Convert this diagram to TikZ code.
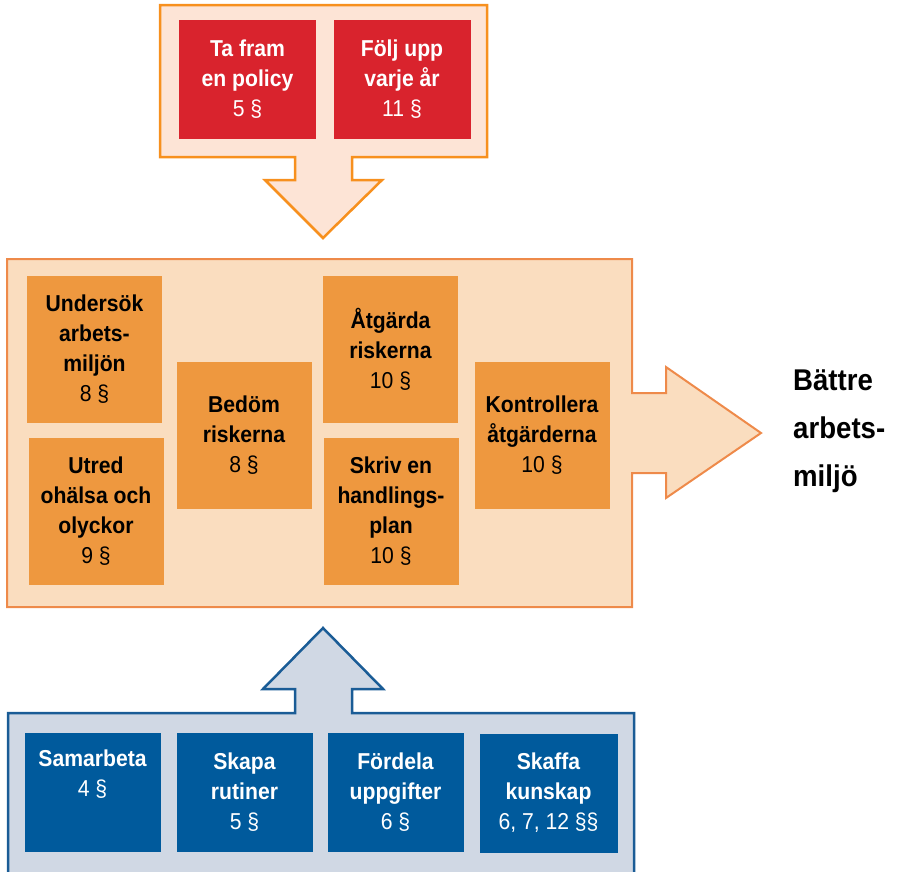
\documentclass[tikz,border=0pt]{standalone}
\usepackage{fontspec}
\setmainfont{Liberation Sans}[FakeStretch=0.92]
\usetikzlibrary{positioning}

\definecolor{topfill}{HTML}{FDE4D6}
\definecolor{topline}{HTML}{F7901E}
\definecolor{midfill}{HTML}{FADDBF}
\definecolor{midline}{HTML}{EE8A4A}
\definecolor{botfill}{HTML}{D0D8E4}
\definecolor{botline}{HTML}{1A5C96}
\definecolor{redbg}{HTML}{D9232D}
\definecolor{orangebg}{HTML}{EE983F}
\definecolor{bluebg}{HTML}{005A9C}

\newcommand{\parnr}[1]{{\mdseries #1}}

\tikzset{
  task/.style={inner sep=0pt, align=center,
    font=\fontsize{23}{30}\selectfont\bfseries},
  redbox/.style={task, fill=redbg, text=white,
    minimum width=137pt, minimum height=119pt},
  orangebox/.style={task, fill=orangebg, text=black,
    minimum width=135pt, minimum height=147pt},
  bluebox/.style={task, fill=bluebg, text=white,
    minimum width=136pt, minimum height=119pt},
}

\begin{document}
\begin{tikzpicture}[x=1pt, y=-1pt]

    \useasboundingbox (0,0) rectangle (912,871);

    % frames

    \draw[line width=2.5pt, draw=topline, fill=topfill, line join=miter]
      (160,5) -- (487,5) -- (487,157) -- (352,157) -- (352,180)
      -- (382,180) -- (323,238) -- (265,180) -- (295,180)
      -- (295,157) -- (160,157) -- cycle;

    \draw[line width=2pt, draw=midline, fill=midfill, line join=miter]
      (7,259) -- (632,259) -- (632,393) -- (666,393) -- (666,367)
      -- (761,433) -- (666,498) -- (666,473) -- (632,473)
      -- (632,607) -- (7,607) -- cycle;

    \draw[line width=2.5pt, draw=botline, fill=botfill, line join=miter]
      (8,713) -- (295,713) -- (295,689) -- (263,689) -- (323,628)
      -- (383,689) -- (352,689) -- (352,713) -- (634,713)
      -- (634,885) -- (8,885) -- cycle;

    % boxes

    \node[redbox] (policy) at (247.5,79.5) {Ta fram\\en policy\\\parnr{5 §}};
    \node[redbox] (foljupp) at (402,79.5) {Följ upp\\varje år\\\parnr{11 §}};

    \node[orangebox] (undersok) at (94.5,349.5)
      {Undersök\\arbets-\\miljön\\\parnr{8 §}};
    \node[orangebox] (utred) at (96,511.5)
      {Utred\\ohälsa och\\olyckor\\\parnr{9 §}};
    \node[orangebox] (bedom) at (244,435) {Bedöm\\riskerna\\\parnr{8 §}};
    \node[orangebox] (atgarda) at (390.5,349.5)
      {Åtgärda\\riskerna\\\parnr{10 §}};
    \node[orangebox] (skriv) at (391,511.5)
      {Skriv en\\handlings-\\plan\\\parnr{10 §}};
    \node[orangebox] (kontroll) at (542,435)
      {Kontrollera\\åtgärderna\\\parnr{10 §}};

    \node[bluebox] (samarbeta) at (92.5,792.5) {Samarbeta\\\parnr{4 §}\\\strut};
    \node[bluebox] (rutiner) at (244.5,792.5) {Skapa\\rutiner\\\parnr{5 §}};
    \node[bluebox] (uppgifter) at (395.5,792.5)
      {Fördela\\uppgifter\\\parnr{6 §}};
    \node[bluebox, minimum width=138pt] (kunskap) at (548.5,793)
      {Skaffa\\kunskap\\\parnr{6, 7, 12 §§}};

    % result

    \node[anchor=west, align=left, inner sep=0pt,
      font=\fontsize{30}{48}\selectfont\bfseries] (battre) at (793,431)
      {Bättre\\arbets-\\miljö};

  \end{tikzpicture}
\end{document}
